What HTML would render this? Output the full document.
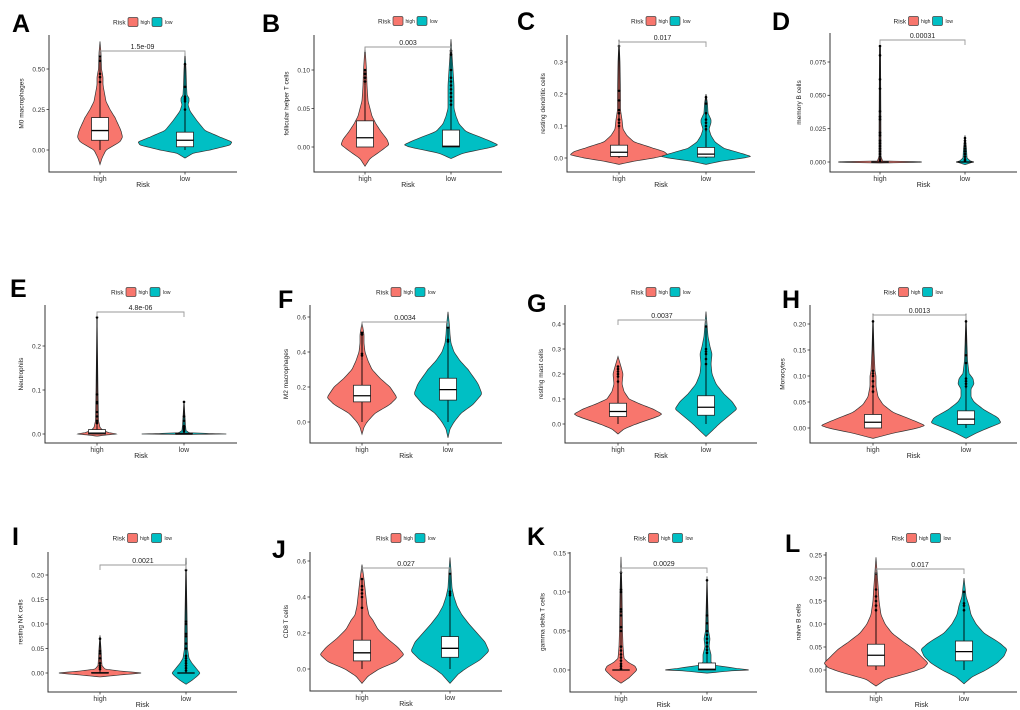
<!DOCTYPE html>
<html><head><meta charset="utf-8"><style>
html,body{margin:0;padding:0;background:#fff}
svg{display:block}
text{font-family:"Liberation Sans",Arial,sans-serif}
</style></head><body>
<svg id="fig" width="1020" height="710" viewBox="0 0 1020 710" xmlns="http://www.w3.org/2000/svg"></svg>
<script>
// ---------- data ----------
const panelIds = ["A","B","C","D","E","F","G","H","I","J","K","L"];
const yTitles = {A:"M0 macrophages",B:"follicular helper T cells",C:"resting dendritic cells",D:"memory B cells",E:"Neutrophils",F:"M2 macrophages",G:"resting mast cells",H:"Monocytes",I:"resting NK cells",J:"CD8 T cells",K:"gamma delta T cells",L:"naive B cells"};
const pValues = {A:"1.5e-09",B:"0.003",C:"0.017",D:"0.00031",E:"4.8e-06",F:"0.0034",G:"0.0037",H:"0.0013",I:"0.0021",J:"0.027",K:"0.0029",L:"0.017"};
const yTicks = {A:[0,0.25,0.5],B:[0,0.05,0.1],C:[0,0.1,0.2,0.3],D:[0,0.025,0.05,0.075],E:[0,0.1,0.2],F:[0,0.2,0.4,0.6],G:[0,0.1,0.2,0.3,0.4],H:[0,0.05,0.1,0.15,0.2],I:[0,0.05,0.1,0.15,0.2],J:[0,0.2,0.4,0.6],K:[0,0.05,0.1,0.15],L:[0,0.05,0.1,0.15,0.2,0.25]};
const yTickLabels = {A:["0.00","0.25","0.50"],B:["0.00","0.05","0.10"],C:["0.0","0.1","0.2","0.3"],D:["0.000","0.025","0.050","0.075"],E:["0.0","0.1","0.2"],F:["0.0","0.2","0.4","0.6"],G:["0.0","0.1","0.2","0.3","0.4"],H:["0.00","0.05","0.10","0.15","0.20"],I:["0.00","0.05","0.10","0.15","0.20"],J:["0.0","0.2","0.4","0.6"],K:["0.00","0.05","0.10","0.15"],L:["0.00","0.05","0.10","0.15","0.20","0.25"]};
const groups = ["high","low"];
const highVals = {
A:[-0.09,-0.05,0,0.05,0.08,0.12,0.2,0.25,0.3,0.4,0.45,0.5,0.6,0.67],
B:[-0.025,-0.015,-0.005,0.003,0.01,0.02,0.03,0.04,0.05,0.06,0.08,0.1,0.13],
C:[-0.02,-0.01,0,0.01,0.02,0.03,0.05,0.07,0.09,0.12,0.15,0.2,0.3,0.37],
D:[-0.0008,-0.0002,0,0.0002,0.0008,0.02,0.087],
E:[-0.005,-0.002,0,0.003,0.008,0.015,0.03,0.1,0.27],
F:[-0.07,-0.03,0,0.05,0.1,0.14,0.2,0.25,0.3,0.35,0.4,0.45,0.5,0.57],
G:[-0.04,-0.02,0,0.03,0.04,0.06,0.08,0.1,0.13,0.16,0.2,0.23,0.27],
H:[-0.02,-0.01,0,0.005,0.015,0.03,0.045,0.06,0.08,0.1,0.11,0.15,0.22],
I:[-0.008,-0.004,0,0.004,0.008,0.015,0.03,0.05,0.077],
J:[-0.08,-0.04,0,0.04,0.08,0.12,0.17,0.22,0.27,0.3,0.35,0.4,0.45,0.5,0.58],
K:[-0.017,-0.01,0,0.005,0.01,0.015,0.03,0.05,0.1,0.145],
L:[-0.035,-0.02,-0.005,0.005,0.015,0.03,0.045,0.06,0.08,0.1,0.12,0.15,0.17,0.2,0.245]};
const highDens = {
A:[0,2,6,20,22.5,21,15,10,6,3,3,1.5,1,0],
B:[0,5,16,24,22,16,11,7,5,3,2,1.5,0],
C:[0,15,35,49,45,35,15,8,4,3,1.5,1.5,1,0],
D:[0,40,42,40,1,1,0.5],
E:[0,10,20,12,6,3,1.5,1,0],
F:[0,2,5,13,28,35,28,18,10,6,3,2,2,0],
G:[0,6,18,40,44,35,22,11,6,4,5,3,0],
H:[0,20,45,52,40,20,10,5,3,3,2,1,0],
I:[0,20,43,20,5,2,1.5,1,0],
J:[0,6,17,34,42,36,25,16,11,7,5,4,3,2,0],
K:[0,8,16,14,7,3,2,1.5,1,0],
L:[0,10,35,48,52,45,38,28,16,9,5,3,2.5,1.5,0]};
const lowVals = {
A:[-0.05,-0.02,0,0.03,0.05,0.08,0.12,0.18,0.24,0.28,0.3,0.32,0.34,0.4,0.5,0.6],
B:[-0.015,-0.008,0,0.003,0.01,0.02,0.03,0.04,0.05,0.06,0.08,0.1,0.12,0.14],
C:[-0.02,-0.01,0,0.005,0.015,0.03,0.05,0.07,0.09,0.11,0.12,0.14,0.17,0.2],
D:[-0.002,-0.0005,0,0.001,0.003,0.01,0.02],
E:[-0.001,0,0.001,0.003,0.008,0.02,0.075],
F:[-0.09,-0.04,0,0.05,0.1,0.16,0.22,0.3,0.35,0.4,0.45,0.5,0.55,0.63],
G:[-0.05,-0.02,0,0.03,0.06,0.09,0.12,0.16,0.2,0.24,0.28,0.31,0.35,0.4,0.45],
H:[-0.02,-0.01,0,0.01,0.02,0.035,0.05,0.06,0.075,0.085,0.095,0.105,0.13,0.16,0.22],
I:[-0.023,-0.015,-0.005,0,0.01,0.02,0.03,0.05,0.1,0.235],
J:[-0.08,-0.03,0,0.05,0.1,0.15,0.2,0.25,0.3,0.35,0.4,0.45,0.5,0.55,0.62],
K:[-0.004,-0.001,0,0.002,0.006,0.01,0.015,0.02,0.03,0.04,0.05,0.12],
L:[-0.03,-0.015,0,0.015,0.03,0.045,0.06,0.08,0.1,0.12,0.14,0.16,0.2]};
const lowDens = {
A:[0,8,25,45,47,35,20,12,5,3,4,4,2,1.5,1,0],
B:[0,12,42,47,35,15,8,5,3,3,3,2,1,0],
C:[0,15,38,45,35,18,9,5,3,5,5,2,1.5,0],
D:[0,6,8,5,2,1.5,0],
E:[0,45,25,5,2,1.5,0],
F:[0,2,6,13,25,34,30,20,12,6,3,2,1.5,0],
G:[0,8,13,22,31,26,18,10,6,5,6,4,2,1,0],
H:[0,10,22,35,32,18,8,5,5,8,7,3,1.5,1,0],
I:[0,6,12,14,10,6,3,1.5,1.2,0],
J:[0,8,15,30,39,35,27,19,12,7,4,2,1.5,1,0],
K:[0,25,43,30,8,4,4,4,2,3,1.5,0],
L:[0,8,22,33,40,43,35,20,12,7,5,2,0]};
const highBox = {A:[0,0.06,0.12,0.2,0.41],B:[0,0,0.012,0.034,0.08],C:[0,0.005,0.018,0.04,0.09],D:[0,0,0,0,0],E:[0,0,0.002,0.01,0.02],F:[0,0.115,0.15,0.21,0.35],G:[0,0.03,0.05,0.083,0.16],H:[0,0,0.011,0.026,0.065],I:[0,0,0,0.001,0.005],J:[0,0.045,0.09,0.16,0.34],K:[0,0,0,0,0],L:[0,0.009,0.032,0.056,0.125]};
const lowBox = {A:[0,0.02,0.06,0.11,0.24],B:[0,0,0.001,0.022,0.052],C:[0,0.003,0.012,0.033,0.08],D:[0,0,0,0,0],E:[0,0,0,0.002,0.005],F:[0,0.125,0.185,0.25,0.44],G:[0,0.035,0.067,0.113,0.23],H:[0,0.007,0.017,0.033,0.075],I:[0,0,0,0,0],J:[0,0.065,0.115,0.18,0.35],K:[0,0,0.001,0.009,0.02],L:[0,0.02,0.04,0.063,0.13]};
const highOut = {A:[0.42,0.45,0.47,0.55,0.58],B:[0.085,0.09,0.095,0.1],C:[0.1,0.11,0.12,0.14,0.15,0.18,0.21,0.35],D:[0.001,0.002,0.004,0.006,0.008,0.01,0.012,0.014,0.016,0.02,0.022,0.032,0.034,0.038,0.055,0.062,0.08,0.087],E:[0.025,0.03,0.04,0.05,0.07,0.073,0.09,0.265],F:[0.38,0.39,0.5,0.51],G:[0.17,0.19,0.2,0.21,0.22,0.23],H:[0.07,0.08,0.09,0.1,0.105,0.11,0.205],I:[0.008,0.012,0.015,0.02,0.03,0.04,0.045,0.07],J:[0.34,0.4,0.42,0.44,0.46,0.5],K:[0.002,0.005,0.008,0.012,0.016,0.02,0.025,0.03,0.05,0.055,0.07,0.075,0.078,0.1,0.103,0.125],L:[0.13,0.14,0.15,0.16,0.175,0.21]};
const lowOut = {A:[0.25,0.3,0.31,0.32,0.33,0.39,0.53],B:[0.055,0.06,0.065,0.07,0.075,0.08,0.085,0.09,0.1,0.12,0.125],C:[0.09,0.1,0.11,0.12,0.14,0.17,0.19],D:[0.001,0.002,0.004,0.006,0.008,0.01,0.012,0.014,0.016,0.018],E:[0.006,0.009,0.012,0.015,0.018,0.03,0.04,0.073],F:[0.46,0.47,0.54],G:[0.24,0.26,0.28,0.29,0.3,0.39],H:[0.08,0.085,0.09,0.095,0.125,0.14,0.205],I:[0.005,0.01,0.015,0.02,0.025,0.03,0.035,0.05,0.06,0.075,0.08,0.1,0.105,0.21],J:[0.41,0.42,0.43,0.53],K:[0.022,0.026,0.03,0.035,0.04,0.045,0.05,0.06,0.07,0.115],L:[0.13,0.14,0.145,0.17]};

// ---------- layout (pixels) ----------
const layout = {
A:{ax:49,top:35,bot:172,right:237,hx:100,lx:185,t0:150,t1:69,br:51,leg:22,lx0:12,ly:32},
B:{ax:314,top:35,bot:172,right:502,hx:365,lx:451,t0:147,t1:70,br:47,leg:21,lx0:262,ly:32},
C:{ax:567,top:35,bot:172,right:755,hx:619,lx:706,t0:158,t1:62,br:42,leg:21,lx0:517,ly:30},
D:{ax:830,top:33,bot:172,right:1017,hx:880,lx:965,t0:162,t1:62,br:40,leg:21,lx0:772,ly:30},
E:{ax:45,top:305,bot:443,right:237,hx:97,lx:184,t0:434,t1:346,br:312,leg:292,lx0:10,ly:297},
F:{ax:310,top:305,bot:443,right:502,hx:362,lx:448,t0:422,t1:317,br:322,leg:292,lx0:278,ly:308},
G:{ax:565,top:305,bot:443,right:757,hx:618,lx:706,t0:424,t1:324,br:320,leg:292,lx0:527,ly:312},
H:{ax:810,top:305,bot:443,right:1017,hx:873,lx:966,t0:428,t1:324,br:315,leg:292,lx0:782,ly:308},
I:{ax:48,top:552,bot:692,right:237,hx:100,lx:186,t0:673,t1:575,br:565,leg:538,lx0:12,ly:545},
J:{ax:310,top:552,bot:691,right:502,hx:362,lx:450,t0:669,t1:561,br:568,leg:538,lx0:272,ly:558},
K:{ax:570,top:552,bot:692,right:757,hx:621,lx:707,t0:670,t1:553,br:568,leg:538,lx0:527,ly:545},
L:{ax:826,top:552,bot:692,right:1017,hx:876,lx:964,t0:670,t1:555,br:569,leg:538,lx0:785,ly:552}};
const RED="#F8766D", TEAL="#00BFC4";
const NS="http://www.w3.org/2000/svg";
const svg=document.getElementById('fig');
function mk(tag,attrs,parent,txt){const e=document.createElementNS(NS,tag);for(const k in attrs)e.setAttribute(k,attrs[k]);if(txt!==undefined)e.textContent=txt;(parent||svg).appendChild(e);return e;}

function violinPath(cx,vals,dens,ys){
  const pts=[];
  for(let i=0;i<vals.length-1;i++){
    const n=6;
    for(let k=0;k<n;k++){const t=k/n;pts.push([vals[i]+(vals[i+1]-vals[i])*t,dens[i]+(dens[i+1]-dens[i])*t]);}
  }
  pts.push([vals[vals.length-1],dens[dens.length-1]]);
  // light smoothing of widths
  const sm=pts.map((p,i)=>{const a=pts[Math.max(0,i-1)][1],b=pts[Math.min(pts.length-1,i+1)][1];return [p[0],(i===0||i===pts.length-1)?p[1]:(a+2*p[1]+b)/4];});
  let d="";
  sm.forEach((p,i)=>{d+=(i?"L":"M")+(cx+p[1]).toFixed(2)+","+ys(p[0]).toFixed(2);});
  for(let i=sm.length-1;i>=0;i--){const p=sm[i];d+="L"+(cx-p[1]).toFixed(2)+","+ys(p[0]).toFixed(2);}
  return d+"Z";
}

panelIds.forEach(id=>{
  const L=layout[id];
  const g=mk('g',{});
  
  
  const tk=yTicks[id];
  const ys=v=>L.t0+(v-tk[0])*(L.t1-L.t0)/(tk[tk.length-1]-tk[0]);
  const lt=mk('text',{x:L.lx0,y:L.ly,'font-size':25,'font-weight':'bold',fill:'#000'},g,id);
  
  
  const cxm=(L.ax+L.right)/2;
  const lg=mk('g',{transform:'translate('+(cxm-30)+','+L.leg+')'},g);
  
  
  mk('text',{x:0,y:2.5,'font-size':6.5,fill:'#222'},lg,'Risk');
  const b1=mk('rect',{x:15,y:-4.5,width:10,height:9,rx:1.5,fill:RED,stroke:'#444','stroke-width':0.7},lg);
  
  
  mk('text',{x:27.5,y:2,'font-size':5,fill:'#222'},lg,'high');
  const b2=mk('rect',{x:39,y:-4.5,width:10,height:9,rx:1.5,fill:TEAL,stroke:'#444','stroke-width':0.7},lg);
  
  
  mk('text',{x:52,y:2,'font-size':5,fill:'#222'},lg,'low');
  const ax=mk('path',{d:'M'+L.ax+','+L.top+'V'+L.bot+'H'+L.right,fill:'none',stroke:'#333','stroke-width':1},g);
  
  
  let maxLen=0;
  tk.forEach((v,i)=>{
    const y=ys(v);
    maxLen=Math.max(maxLen,yTickLabels[id][i].length);
    mk('line',{x1:L.ax-2.5,x2:L.ax,y1:y,y2:y,stroke:'#333','stroke-width':0.8},g);
    const t=mk('text',{x:L.ax-4,y:y+2.3,'font-size':6.5,'text-anchor':'end',fill:'#333'},g,yTickLabels[id][i]);
    
    
  });
  const ym=(L.top+L.bot)/2, yx=L.ax-7-maxLen*3.4-5;
  const yt=mk('text',{x:yx,y:ym,'font-size':6.5,'text-anchor':'middle',fill:'#222',transform:'rotate(-90 '+yx+' '+ym+')'},g,yTitles[id]);
  
  
  const xt=mk('text',{x:cxm,y:L.bot+15,'font-size':7,'text-anchor':'middle',fill:'#222'},g,'Risk');
  
  
  const specs=[[L.hx,RED,highVals[id],highDens[id],highBox[id],highOut[id]],[L.lx,TEAL,lowVals[id],lowDens[id],lowBox[id],lowOut[id]]];
  specs.forEach((s,gi)=>{
    const [cx,col,vals,dens,bx,out]=s;
    mk('line',{x1:cx,x2:cx,y1:L.bot,y2:L.bot+2.5,stroke:'#333','stroke-width':0.8},g);
    const xl=mk('text',{x:cx,y:L.bot+9,'font-size':7,'text-anchor':'middle',fill:'#333'},g,groups[gi]);
    
    
    const v=mk('path',{d:violinPath(cx,vals,dens,ys),fill:col,stroke:'#333','stroke-width':0.7},g);
    
    
    if(out.length){mk('line',{x1:cx,x2:cx,y1:ys(bx[4]),y2:ys(Math.max(...out)),stroke:'#000','stroke-width':1},g);}
    out.forEach(o=>{
      const c=mk('circle',{cx:cx,cy:ys(o),r:1.3,fill:'#000'},g);
      
      
    });
    mk('line',{x1:cx,x2:cx,y1:ys(bx[0]),y2:ys(bx[4]),stroke:'#000','stroke-width':0.9},g);
    const bw=17;
    const r=mk('rect',{x:cx-bw/2,y:ys(bx[3]),width:bw,height:Math.max(0.01,ys(bx[1])-ys(bx[3])),fill:'#fff',stroke:'#222','stroke-width':0.8},g);
    
    
    mk('line',{x1:cx-bw/2,x2:cx+bw/2,y1:ys(bx[2]),y2:ys(bx[2]),stroke:'#000','stroke-width':1.3},g);
  });
  const br=mk('path',{d:'M'+L.hx+','+(L.br+5)+'V'+L.br+'H'+L.lx+'V'+(L.br+5),fill:'none',stroke:'#999','stroke-width':0.9},g);
  
  
  const pt=mk('text',{x:(L.hx+L.lx)/2,y:L.br-2,'font-size':7,'text-anchor':'middle',fill:'#222'},g,pValues[id]);
  
  
});
</script>
</body></html>
